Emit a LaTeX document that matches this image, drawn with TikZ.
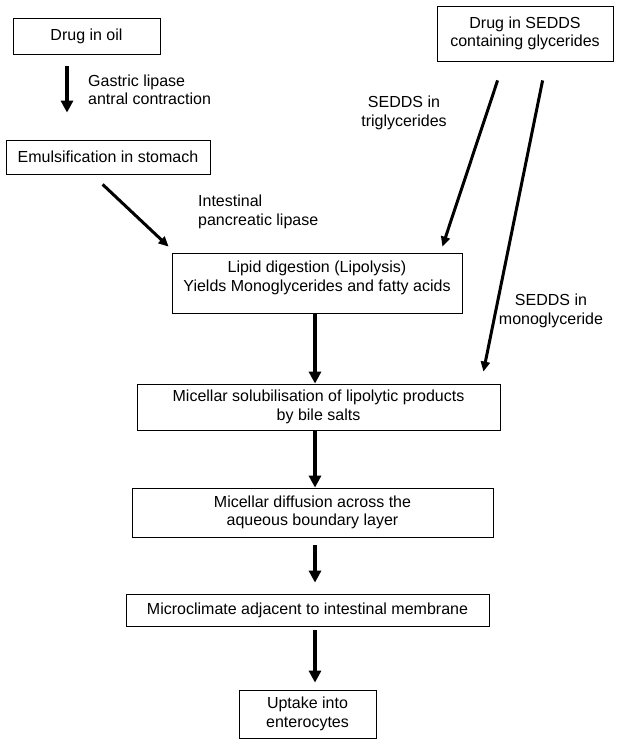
\documentclass[tikz,border=0pt]{standalone}
\usepackage{fontspec}
\setmainfont{Liberation Sans}
\usetikzlibrary{arrows.meta}

\begin{document}
\begin{tikzpicture}[
    x = 1pt,
    y = -1pt,
    >={Triangle[length=12pt,width=12pt]},
    box/.style = {
      draw,
      line width = 0.8pt,
      rectangle,
      inner sep = 0pt,
      align = center,
      font = \fontsize{16}{18.5}\selectfont
    },
    lbl/.style = {
      inner sep = 0pt,
      font = \fontsize{16}{18.5}\selectfont
    },
    flow/.style = {->, line width = 4.5pt},
    side/.style = {-{Triangle[length=10pt,width=9pt]}, line width = 3pt}
  ]
  \useasboundingbox (0,0) rectangle (620,745);

  \coordinate (axisA) at (67,0);
  \coordinate (axis)  at (315,0);

  \node[box, minimum width=147, minimum height=36] (oil)    at (86.5,36)  {Drug in oil};
  \node[box, minimum width=176, minimum height=55] (sedds)  at (525,33.5) {Drug in SEDDS\\containing glycerides};
  \node[box, minimum width=204, minimum height=34] (emul)   at (108,157)  {Emulsification in stomach};
  \node[box, minimum width=290, minimum height=60, text depth=14pt] (lipid) at (317,283) {Lipid digestion (Lipolysis)\\Yields Monoglycerides and fatty acids};
  \node[box, minimum width=363, minimum height=46] (micsol) at (318.5,407) {Micellar solubilisation of lipolytic products\\by bile salts};
  \node[box, minimum width=361, minimum height=49] (diffus) at (312.5,512.5) {Micellar diffusion across the\\aqueous boundary layer};
  \node[box, minimum width=363, minimum height=32] (micro)  at (307.5,610) {Microclimate adjacent to intestinal membrane};
  \node[box, minimum width=137, minimum height=48] (uptake) at (307.5,714) {Uptake into\\enterocytes};

  \node[lbl, anchor=west, align=left]  (gastric) at (88,90)    {Gastric lipase\\antral contraction};
  \node[lbl, anchor=west, align=left]  (intest)  at (198,212)  {Intestinal\\pancreatic lipase};
  \node[lbl, align=center]             (trig)    at (404,113)  {SEDDS in\\triglycerides};
  \node[lbl, align=center]             (mono)    at (551,311)  {SEDDS in\\monoglyceride};

  \draw[flow, shorten <=12, shorten >=27] (oil.south -| axisA) -- (emul.north -| axisA);

  \draw[side] ([shift={(97,10)}]emul.south west) -- ([shift={(-3,-6)}]lipid.north west);
  \draw[side] ([shift={(61,19)}]sedds.south west) -- ([shift={(-20,-6)}]lipid.north east);
  \draw[side] ([shift={(106,19)}]sedds.south west) -- ([shift={(-17,-12)}]micsol.north east);

  \draw[flow] (lipid.south -| axis) -- (micsol.north -| axis);
  \draw[flow] (micsol.south -| axis) -- (diffus.north -| axis);
  \draw[flow, shorten <=8, shorten >=11] (diffus.south -| axis) -- (micro.north -| axis);
  \draw[flow, shorten <=4, shorten >=7] (micro.south -| axis) -- (uptake.north -| axis);
\end{tikzpicture}
\end{document}
